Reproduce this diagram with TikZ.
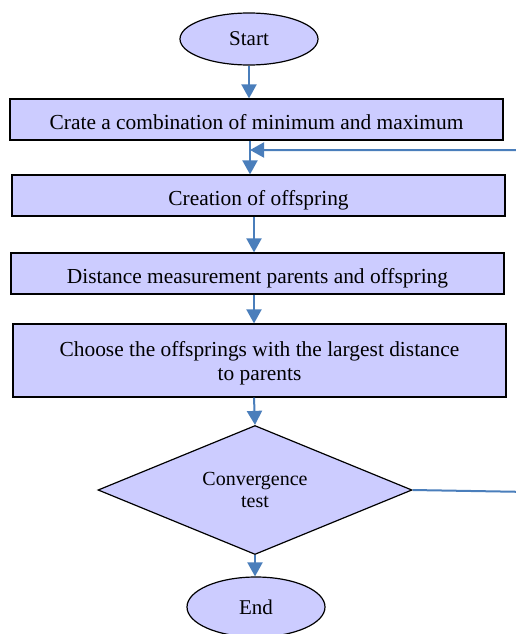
\documentclass[tikz,border=0pt]{standalone}
\usepackage{fontspec}
\setmainfont{Liberation Serif}
\usetikzlibrary{shapes.geometric,arrows.meta}
\definecolor{boxfill}{HTML}{CCCCFF}
\definecolor{arrblue}{HTML}{4A7EBB}
\tikzset{
  proc/.style={draw=black, line width=1.2pt, fill=boxfill, rectangle, minimum width=493pt, inner sep=0pt, align=center, font=\fontsize{21.4}{24}\selectfont},
  term/.style={draw=black, line width=1.2pt, fill=boxfill, ellipse, minimum width=138pt, inner sep=0pt, text depth=0pt, font=\fontsize{21}{25}\selectfont},
  dec/.style={draw=black, line width=1.2pt, fill=boxfill, diamond, shape aspect=2.43, minimum width=314pt, minimum height=129pt, inner sep=0pt, align=center, font=\fontsize{20}{22}\selectfont},
  lbl/.style={inner sep=0pt, align=center, font=\fontsize{21.4}{24}\selectfont},
  arr/.style={draw=arrblue, line width=2pt, -{Triangle[width=15pt,length=14pt]}}
}
\begin{document}
\begin{tikzpicture}[x=1pt,y=-1pt]
\clip (0,0) rectangle (516,634);
\node[term, minimum height=52pt] (start) at (249,39) {Start};
\node[proc, minimum height=41pt, text height=19pt, text depth=0pt] (b1) at (256.5,119.5) {Crate a combination of minimum and maximum};
\node[proc, minimum height=41pt, text height=19pt, text depth=0pt] (b2) at (258.5,195.5) {Creation of offspring};
\node[proc, minimum height=41pt, text height=19pt, text depth=0pt] (b3) at (257.5,273.5) {Distance measurement parents and offspring};
\node[proc, minimum height=73pt] (b4) at (259.5,360.5) {};
\node[lbl] (b4t) at (259.5,363.5) {Choose the offsprings with the largest distance\\to parents};
\node[dec] (dia) at (255,490) {Convergence\\test};
\node[term, minimum height=60pt] (end) at (256,607) {End};
\coordinate (join) at (250,150);
\coordinate (fbr) at (530,492);
\draw[arr] (start.south) -- (start.south |- b1.north);
\draw[arr] (250,0 |- b1.south) -- (250,0 |- b2.north);
\draw[arr] (254,0 |- b2.south) -- (254,0 |- b3.north);
\draw[arr] (254,0 |- b3.south) -- (254,0 |- b4.north);
\draw[arr] (254,0 |- b4.south) -- (dia.north);
\draw[arr] (dia.south) -- (dia.south |- end.north);
\draw[arr] (dia.east) -- (fbr) |- (join);
\end{tikzpicture}
\end{document}
